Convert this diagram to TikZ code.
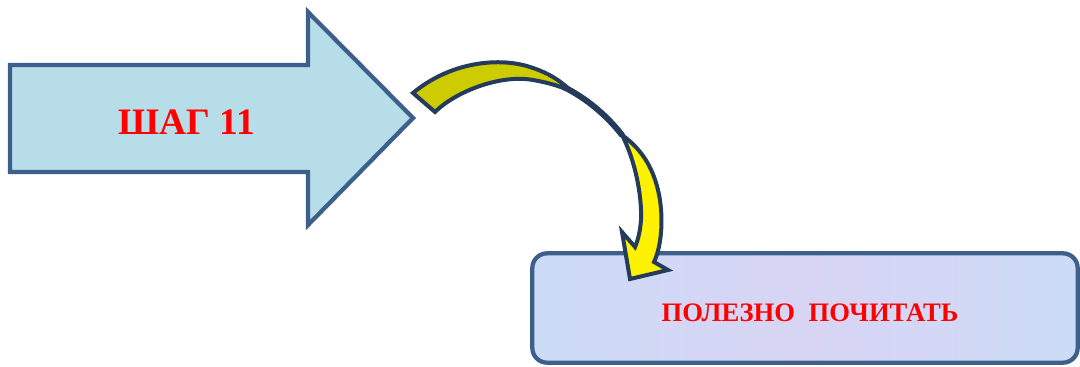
\documentclass[tikz,border=0pt]{standalone}
\usepackage{fontspec}
\setmainfont{Liberation Serif}
\begin{document}
\begin{tikzpicture}[x=0.75pt,y=-0.75pt,
  blockline/.style={draw=arrowblue,line width=3.2pt,line join=miter},
  curveline/.style={draw=navy,line width=3pt,line join=miter},
  labeltext/.style={text=red,font=\bfseries}]
\definecolor{arrowblue}{HTML}{3D5F8C}
\definecolor{lightblue}{HTML}{B7DDE8}
\definecolor{navy}{HTML}{243B5C}
\definecolor{olive}{HTML}{CCCC00}
\definecolor{boxfill}{HTML}{CCDCF6}
\definecolor{boxlav}{HTML}{D8D4F4}
\useasboundingbox (0,0) rectangle (1080,367);
% block arrow
\draw[blockline,fill=lightblue] (10,65) -- (308,65) -- (308,12) -- (413,118) -- (308,225) -- (308,172) -- (10,172) -- cycle;
\node[labeltext,font=\bfseries\fontsize{28}{30}\selectfont] (step) at (187,122) {ШАГ 11};
% box
\node[draw=arrowblue,line width=3.2pt,rounded corners=11pt,minimum width=409pt,minimum height=82pt,
  inner sep=0pt,left color=boxfill,right color=boxfill,middle color=boxlav] (box) at (805,308) {};
\node[labeltext,font=\bfseries\fontsize{20}{22}\selectfont] (read) at (810,313) {ПОЛЕЗНО\ \ ПОЧИТАТЬ};
% curved arrow coordinates
\coordinate (tailA) at (413,93);
\coordinate (tailB) at (435,112);
\coordinate (twistA) at (572,92);
\coordinate (twistB) at (622,135);
\coordinate (tip) at (630,279);
% twist band
\draw[navy,line width=4.5pt,line cap=round] (562,86) .. controls (588,99) and (607,116) .. (twistB);
% olive part
\draw[curveline,fill=olive] (tailA) -- (tailB)
  .. controls (455,92) and (500,74) .. (533,80)
  .. controls (550,83) and (563,87) .. (twistA)
  .. controls (560,80) and (548,73) .. (533,68)
  .. controls (500,56) and (450,62) .. (tailA) -- cycle;
% yellow part
\draw[curveline,fill=yellow] (twistB)
  .. controls (635,160) and (642,195) .. (641,220)
  .. controls (640,232) and (638,240) .. (635,247)
  -- (622,232) -- (tip) -- (668,270) -- (654,262)
  .. controls (662,245) and (664,215) .. (658,190)
  .. controls (652,165) and (640,148) .. (twistB) -- cycle;
\end{tikzpicture}
\end{document}
